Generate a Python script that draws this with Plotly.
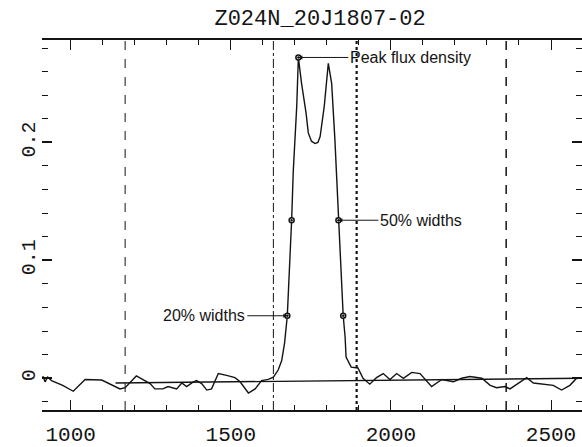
import plotly.graph_objects as go

# ---- data ----
title_text = "Z024N_20J1807-02"

velocity = [913, 920, 928, 940, 975, 1008, 1045, 1097, 1154, 1170, 1205, 1248, 1263, 1288,
            1304, 1331, 1347, 1362, 1383, 1393, 1409, 1425, 1440, 1461, 1487, 1513, 1529,
            1555, 1576, 1596, 1617, 1633, 1648, 1659, 1668, 1676.5, 1690, 1695, 1706, 1711,
            1721, 1735, 1742, 1752, 1763, 1772, 1779, 1792, 1804.5, 1815, 1825, 1836, 1844,
            1851, 1857, 1860, 1876, 1897, 1913, 1934, 1955, 1976, 1997, 2018, 2039, 2065,
            2091, 2127, 2159, 2195, 2221, 2247, 2284, 2310, 2330, 2356, 2372, 2398, 2424,
            2445, 2476, 2507, 2533, 2559, 2580, 2595]
flux = [0.002, -0.003, 0.001, -0.002, -0.006, -0.011, -0.001, -0.0015, -0.009, -0.008,
        0.002, -0.0045, -0.009, -0.009, -0.007, -0.009, -0.004, -0.007, -0.003, -0.002,
        -0.0045, -0.010, -0.009, 0.004, 0.0025, 0.0005, -0.003, -0.0125, -0.009, -0.002,
        -0.001, 0.001, 0.007, 0.015, 0.030, 0.053, 0.134, 0.175, 0.231, 0.272,
        0.250, 0.225, 0.208, 0.201, 0.199, 0.200, 0.205, 0.231, 0.267, 0.250, 0.203, 0.134,
        0.091, 0.053, 0.035, 0.018, 0.0095, 0.0087, 0.0, -0.005, 0.0005, 0.004, -0.001,
        0.004, 0.0, 0.005, 0.004, -0.007, -0.001, -0.003, 0.0, 0.0015, 0.0, -0.006, -0.008,
        -0.007, -0.009, -0.0045, 0.0005, -0.004, -0.005, -0.006, -0.010, -0.006, 0.0,
        0.0005]

baseline_x = [1140, 2596]
baseline_y = [-0.004, 0.0]

# width-measurement points
peak_point = (1711, 0.272)
w50_points = ([1690, 1836], [0.134, 0.134])
w20_points = ([1676.5, 1851], [0.053, 0.053])

# vertical window markers
window_x = [1170, 1633, 1893, 2360]
window_dash = ["dash", "dashdot", "dot", "dash"]
window_width = [1, 1, 2.2, 1.5]

x_range = [910.4, 2596.8]
y_range = [-0.0269, 0.2868]
y_tick_vals = [0, 0.1, 0.2]
y_tick_text = ["0", "0.1", "0.2"]
x_tick_vals = [1000, 1500, 2000, 2500]

ink = "#141414"
mono = "Liberation Mono"
sans = "Liberation Sans"

fig = go.Figure()

fig.add_trace(go.Scatter(x=baseline_x, y=baseline_y, mode="lines",
                         line=dict(color=ink, width=1.4), hoverinfo="skip"))
fig.add_trace(go.Scatter(x=velocity, y=flux, mode="lines",
                         line=dict(color=ink, width=1.4), hoverinfo="skip"))

mk_x = [peak_point[0]] + w50_points[0] + w20_points[0]
mk_y = [peak_point[1]] + w50_points[1] + w20_points[1]
fig.add_trace(go.Scatter(x=mk_x, y=mk_y, mode="markers",
                         marker=dict(symbol="circle-dot", size=5, color="white",
                                     line=dict(color=ink, width=1.5)),
                         hoverinfo="skip"))

for xv, d, w in zip(window_x, window_dash, window_width):
    fig.add_shape(type="line", xref="x", yref="paper", x0=xv, x1=xv, y0=0, y1=1,
                  line=dict(color=ink, width=w, dash=d))

ann_font = dict(family=sans, size=16, color=ink)
arrow_kw = dict(showarrow=True, arrowhead=2, arrowsize=0.8, arrowwidth=1,
                arrowcolor=ink, axref="pixel", ayref="pixel", font=ann_font)
fig.add_annotation(x=peak_point[0], y=peak_point[1], ax=50, ay=0,
                   text="Peak flux density", xanchor="left", **arrow_kw)
fig.add_annotation(x=w50_points[0][1], y=w50_points[1][1], ax=40, ay=0,
                   text="50% widths", xanchor="left", **arrow_kw)
fig.add_annotation(x=w20_points[0][0], y=w20_points[1][0], ax=-40, ay=0,
                   text="20% widths", xanchor="right", **arrow_kw)

fig.update_layout(
    width=582, height=447,
    margin=dict(l=42, r=0, t=40, b=34),
    paper_bgcolor="white", plot_bgcolor="white",
    showlegend=False,
    title=dict(text=title_text, x=0.515, xref="paper", y=0.962, yref="container",
               xanchor="center", yanchor="middle",
               font=dict(family=mono, size=22, color=ink)),
    xaxis=dict(range=x_range, tickvals=x_tick_vals, ticks="inside", ticklen=10,
               tickwidth=1.2, tickcolor=ink, showline=True, linecolor=ink, linewidth=2,
               mirror="allticks", showgrid=False, zeroline=False,
               minor=dict(dtick=100, tick0=0, ticks="inside", ticklen=5, tickwidth=1,
                          tickcolor=ink, showgrid=False),
               tickfont=dict(family=mono, size=21, color=ink), ticklabelstandoff=4),
    yaxis=dict(range=y_range, tickvals=y_tick_vals, ticktext=y_tick_text,
               ticks="inside", ticklen=10, tickwidth=1.5, tickcolor=ink,
               showline=False, mirror="ticks", showgrid=False, zeroline=False,
               tickangle=-90,
               minor=dict(dtick=0.02, tick0=0, ticks="inside", ticklen=6, tickwidth=1.2,
                          tickcolor=ink, showgrid=False),
               tickfont=dict(family=mono, size=20, color=ink), ticklabelstandoff=2),
)

fig.write_html("out.html")
